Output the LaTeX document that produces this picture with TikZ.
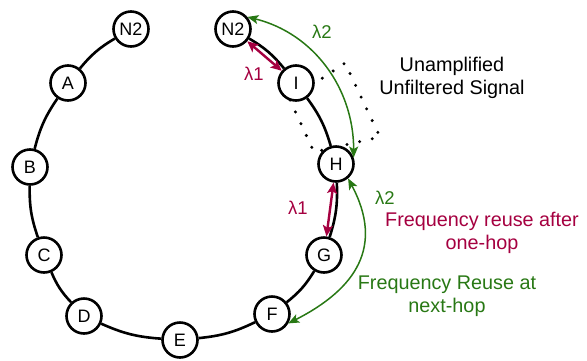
\documentclass[tikz,border=0pt]{standalone}
\usepackage{fontspec}
\setmainfont{Liberation Sans}
\usetikzlibrary{arrows.meta}
\definecolor{hopred}{RGB}{165,0,64}
\definecolor{hopgreen}{RGB}{40,120,20}
\begin{document}
\begin{tikzpicture}[x=1pt,y=1pt,
  ringnode/.style={circle,draw=black,line width=2.6pt,fill=white,
    minimum size=35pt,inner sep=0pt,font=\fontsize{18}{18}\selectfont},
  ringlink/.style={line width=2.6pt,bend right=10},
  reuse1/.style={draw=hopred,line width=2.4pt,
    {Stealth[length=11pt,width=10pt,inset=2.5pt]}-{Stealth[length=11pt,width=10pt,inset=2.5pt]}},
  reuse2/.style={draw=hopgreen,line width=1.5pt,
    {Stealth[length=11pt,width=9pt,inset=2.5pt]}-{Stealth[length=11pt,width=9pt,inset=2.5pt]}},
  lbl/.style={font=\fontsize{18.5}{18.5}\selectfont,inner sep=0pt},
  caption/.style={font=\fontsize{19.8}{23.5}\selectfont,align=center,inner sep=0pt},
  sigzone/.style={line width=3.3pt,line cap=round,dash pattern=on 0pt off 13pt}
]
\useasboundingbox (0,0) rectangle (587,-360);

% dotted region around the unamplified hop
\draw[sigzone] (290,-100) -- (345,-63) -- (380,-137) -- (314,-152) -- cycle;

% ring of nodes
\node[ringnode] (N2L) at (131,-29)  {N2};
\node[ringnode] (A)   at (68,-83)   {A};
\node[ringnode] (B)   at (30,-167)  {B};
\node[ringnode] (C)   at (44,-255)  {C};
\node[ringnode] (D)   at (84,-316)  {D};
\node[ringnode] (E)   at (180,-340) {E};
\node[ringnode] (F)   at (272,-314) {F};
\node[ringnode] (G)   at (324,-255) {G};
\node[ringnode] (H)   at (336,-164) {H};
\node[ringnode] (I)   at (296,-83)  {I};
\node[ringnode] (N2R) at (233,-29)  {N2};

% ring links
\draw[ringlink] (N2L) to (A);
\draw[ringlink] (A) to (B);
\draw[ringlink] (B) to (C);
\draw[ringlink] (C) to (D);
\draw[ringlink] (D) to (E);
\draw[ringlink] (E) to (F);
\draw[ringlink] (F) to (G);
\draw[ringlink] (G) to (H);
\draw[ringlink] (H) to (I);
\draw[ringlink] (I) to (N2R);

% one-hop frequency reuse
\draw[reuse1] (N2R) -- (I);
\draw[reuse1] (H) -- (G);
\node[lbl,text=hopred] (l1a) at (254,-74) {λ1};
\node[lbl,text=hopred] (l1b) at (298,-208) {λ1};

% next-hop frequency reuse
\draw[reuse2] (N2R.40) to[out=-14,in=90] (H.20);
\draw[reuse2] (H.-50) to[out=-62,in=27,looseness=1.25] (F.-30);
\node[lbl,text=hopgreen] (l2a) at (322,-32) {λ2};
\node[lbl,text=hopgreen] (l2b) at (385,-198) {λ2};

% captions
\node[caption] (sig) at (452,-78) {Unamplified\\Unfiltered Signal};
\node[caption,text=hopred] (cap1) at (482,-233) {Frequency reuse after\\one-hop};
\node[caption,text=hopgreen] (cap2) at (447,-296) {Frequency Reuse at\\next-hop};
\end{tikzpicture}
\end{document}
